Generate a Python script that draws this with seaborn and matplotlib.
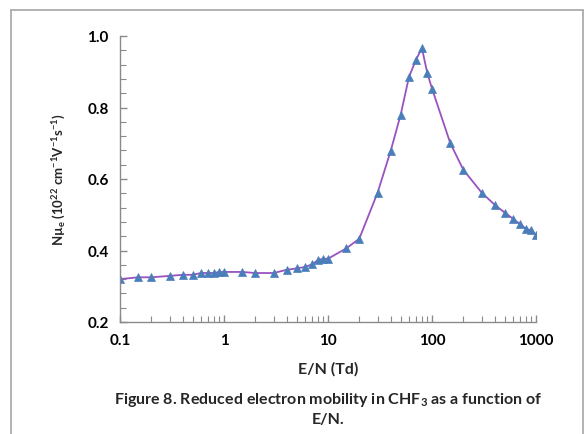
import numpy as np
import pandas as pd
import matplotlib
matplotlib.use("Agg")
import matplotlib.pyplot as plt
import matplotlib.ticker as mticker
from matplotlib.lines import Line2D
import seaborn as sns

# Data
en_td = [0.1, 0.15, 0.2, 0.3, 0.4, 0.5, 0.6, 0.7, 0.8, 0.9, 1.0, 1.5, 2, 3, 4, 5, 6, 7, 8, 9, 10,
         15, 20, 30, 40, 50, 60, 70, 80, 90, 100, 150, 200, 300, 400, 500, 600, 700, 800, 900, 1000]
mobility = [0.320, 0.325, 0.325, 0.329, 0.332, 0.332, 0.337, 0.337, 0.337, 0.340, 0.340, 0.340,
            0.337, 0.337, 0.346, 0.350, 0.354, 0.361, 0.373, 0.377, 0.377,
            0.406, 0.433, 0.562, 0.678, 0.780, 0.885, 0.933, 0.966, 0.897, 0.853,
            0.700, 0.626, 0.562, 0.528, 0.506, 0.489, 0.474, 0.461, 0.456, 0.443]
x_ticks = [0.1, 1, 10, 100, 1000]
x_tick_labels = ["0.1", "1", "10", "100", "1000"]
y_ticks = [0.2, 0.4, 0.6, 0.8, 1.0]
y_tick_labels = ["0.2", "0.4", "0.6", "0.8", "1.0"]

df = pd.DataFrame({"en": en_td, "mu": mobility})

sns.set_theme(style="white")
plt.rcParams['font.family'] = ['Lato', 'DejaVu Sans']
plt.rcParams['font.weight'] = 'bold'
plt.rcParams['mathtext.fontset'] = 'custom'
plt.rcParams['mathtext.rm'] = 'Lato:bold'
plt.rcParams['mathtext.it'] = 'Lato:bold'
plt.rcParams['mathtext.bf'] = 'Lato:bold'

fig = plt.figure(figsize=(5.86, 4.35), dpi=100)
fig.patch.set_facecolor("white")
ax = fig.add_axes([120/586, 1-323/435, 416/586, (323-37)/435])

sns.lineplot(data=df, x="en", y="mu", ax=ax, color="#9a52bf", linewidth=1.3,
             marker="^", markersize=6, markerfacecolor="#4a7ebb",
             markeredgecolor="#4a7ebb", markeredgewidth=0.5)

ax.set_xscale("log")
ax.set_xlim(0.1, 1000)
ax.set_ylim(0.2, 1.0)
ax.set_xticks(x_ticks)
ax.set_xticklabels(x_tick_labels)
ax.set_yticks(y_ticks)
ax.set_yticklabels(y_tick_labels)
ax.xaxis.set_minor_locator(mticker.LogLocator(base=10, subs=np.arange(2, 10)))
ax.xaxis.set_minor_formatter(mticker.NullFormatter())
ax.yaxis.set_minor_locator(mticker.MultipleLocator(0.04))

gray = "#8a8a8a"
for s in ["top", "right"]:
    ax.spines[s].set_visible(False)
for s in ["left", "bottom"]:
    ax.spines[s].set_color(gray)
    ax.spines[s].set_linewidth(1.0)

ax.tick_params(axis="both", which="major", direction="in", length=5, width=1,
               color=gray, labelsize=11, labelcolor="black", pad=8)
ax.tick_params(axis="both", which="minor", direction="in", length=4, width=0.8, color=gray)
ax.tick_params(axis="y", which="both", left=True)
ax.tick_params(axis="x", which="both", bottom=True)
for lab in ax.get_xticklabels() + ax.get_yticklabels():
    lab.set_fontweight("bold")

ax.set_xlabel("E/N (Td)", fontsize=11.5, fontweight="bold", labelpad=10)
ax.set_ylabel(r"Nµ$_{e}$ (10$^{22}$ cm$^{-1}$V$^{-1}$s$^{-1}$)", fontsize=9.5,
              fontweight="bold", labelpad=14)

fig.text(328/586, 1-400/435, r"Figure 8. Reduced electron mobility in CHF$_3$ as a function of",
         ha="center", va="center", fontsize=11.5, fontweight="bold")
fig.text(328/586, 1-420/435, "E/N.", ha="center", va="center", fontsize=11.5, fontweight="bold")

# outer frame
fc = "#a6a6a6"
fig.add_artist(Line2D([11/586, 11/586], [0, 1-11/435], transform=fig.transFigure, color=fc, lw=1.2))
fig.add_artist(Line2D([11/586, 583/586], [1-11/435, 1-11/435], transform=fig.transFigure, color=fc, lw=1.2))
fig.add_artist(Line2D([583/586, 583/586], [0, 1-11/435], transform=fig.transFigure, color=fc, lw=1.2))

fig.savefig("out.png", dpi=100, facecolor="white")
